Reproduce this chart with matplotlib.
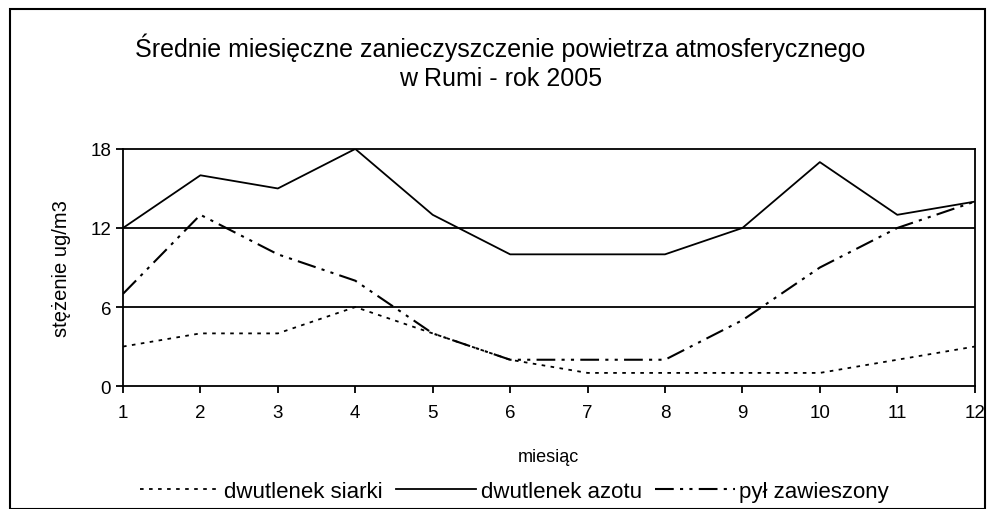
import matplotlib
matplotlib.use("Agg")
import matplotlib.pyplot as plt
from matplotlib.patches import Rectangle

plt.rcParams['font.family'] = ['Liberation Sans', 'DejaVu Sans']

months = list(range(1, 13))
so2 = [3, 4, 4, 6, 4, 2, 1, 1, 1, 1, 2, 3]
no2 = [12, 16, 15, 18, 13, 10, 10, 10, 12, 17, 13, 14]
pyl = [7, 13, 10, 8, 4, 2, 2, 2, 5, 9, 12, 14]
labels = ['dwutlenek siarki', 'dwutlenek azotu', 'pył zawieszony']

fig = plt.figure(figsize=(9.95, 5.10), dpi=100)
ax = fig.add_axes([0.1236, 0.241, 0.856, 0.465])

# outer chart border
fig.patches.append(Rectangle((0.01, 0.0), 0.98, 0.98, transform=fig.transFigure,
                             fill=False, edgecolor='black', linewidth=1.5))

ax.plot(months, so2, color='black', lw=1.3, linestyle=(0, (2, 3)), label=labels[0])
ax.plot(months, no2, color='black', lw=1.3, linestyle='-', label=labels[1])
ax.plot(months, pyl, color='black', lw=1.5, linestyle=(0, (9, 3, 1.5, 3, 1.5, 3)), label=labels[2])

ax.set_xlim(1, 12)
ax.set_ylim(0, 18)
ax.set_xticks(months)
ax.set_yticks([0, 6, 12, 18])
for y in [6, 12]:
    ax.axhline(y, color='black', lw=1.3, zorder=0)
for s in ax.spines.values():
    s.set_linewidth(1.3)
ax.tick_params(labelsize=13.5, length=5, width=1.3, direction='out')
ax.tick_params(axis='x', pad=8)

ax.set_xlabel('miesiąc', fontsize=13, labelpad=19)
ax.set_ylabel('stężenie ug/m3', fontsize=14.5, labelpad=14)
fig.text(0.503, 0.878, 'Średnie miesięczne zanieczyszczenie powietrza atmosferycznego\nw Rumi - rok 2005',
         ha='center', va='center', fontsize=18, linespacing=1.3)

fig.legend(loc='center', bbox_to_anchor=(0.517, 0.035), ncol=3, frameon=False, fontsize=16,
           handlelength=3.6, handletextpad=0.2, columnspacing=0.6)

fig.savefig('out.png', dpi=100)
